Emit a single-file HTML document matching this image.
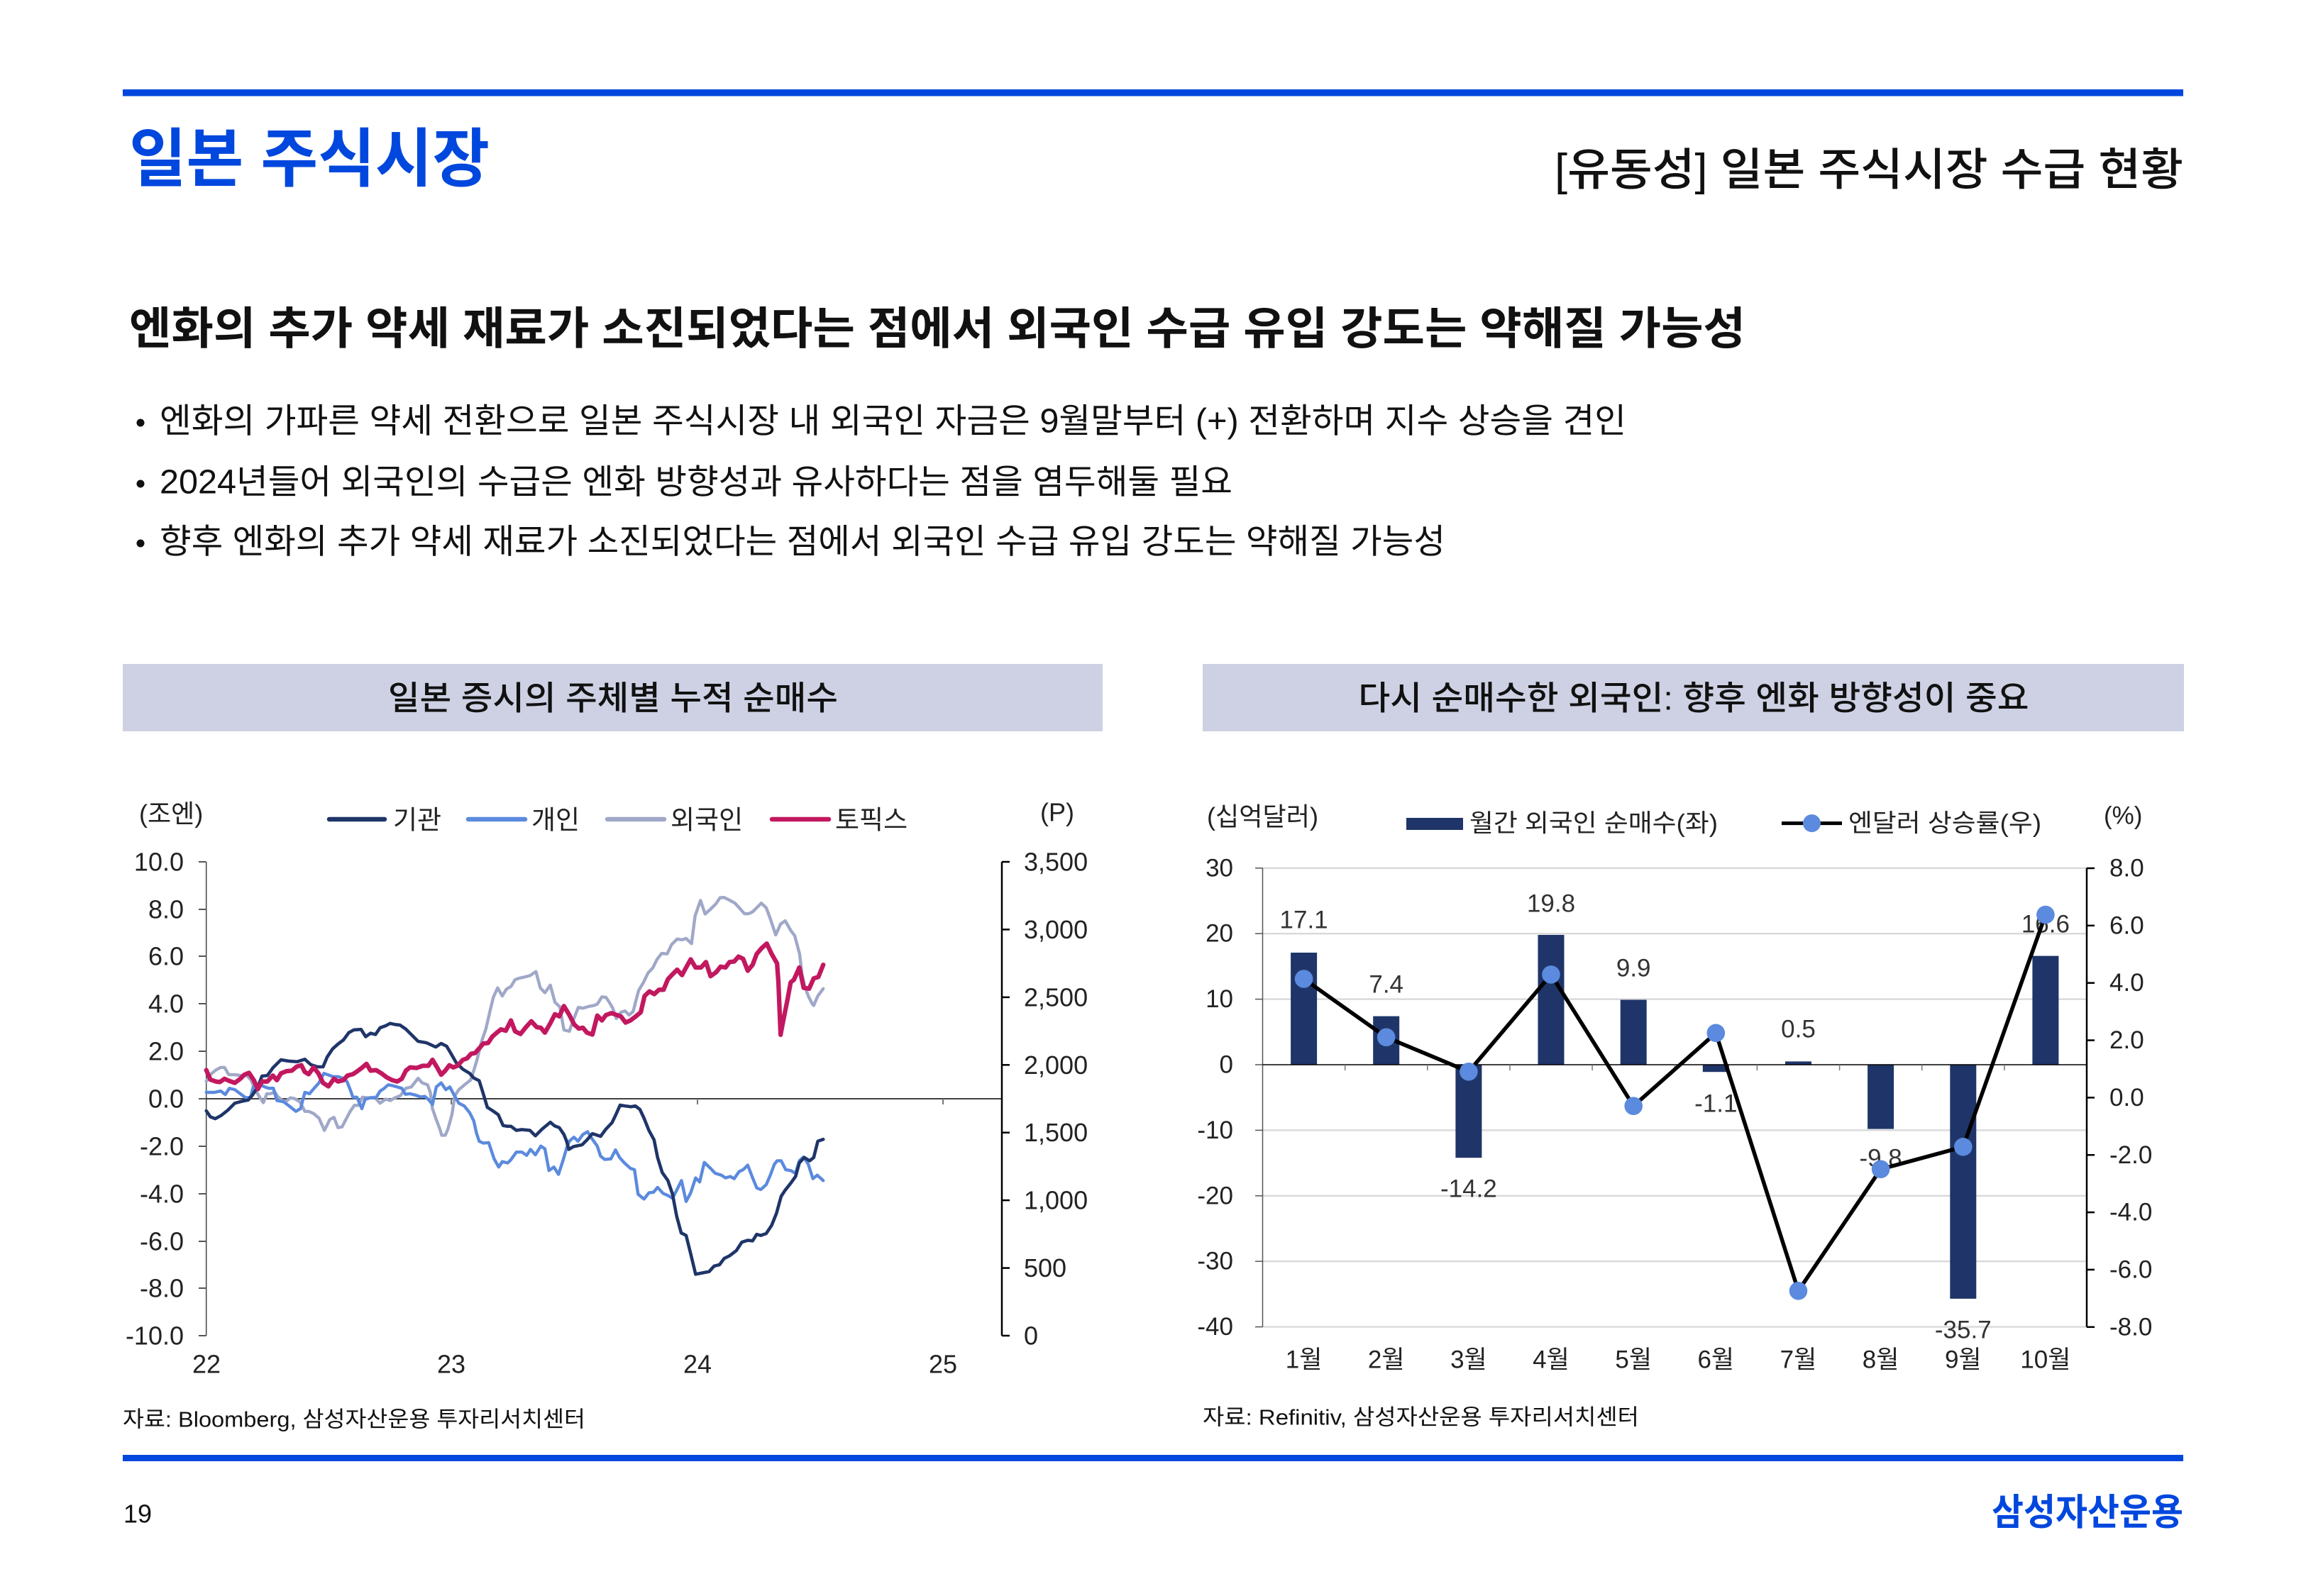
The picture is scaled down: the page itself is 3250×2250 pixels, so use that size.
<!DOCTYPE html>
<html>
<head>
<meta charset="utf-8">
<style>
html,body{margin:0;padding:0;background:#fff;}
svg{display:block;}
text{font-family:"Liberation Sans","Noto Sans CJK KR",sans-serif;}
</style>
</head>
<body>
<svg width="3250" height="2250" viewBox="0 0 3250 2250" xmlns="http://www.w3.org/2000/svg">
<rect width="3250" height="2250" fill="#fff"/>

<!-- Top line & titles -->
<rect x="173" y="126" width="2904" height="9.5" fill="#0047de"/>
<text x="182" y="225" font-size="90" font-weight="700" fill="#0047de" dominant-baseline="central" textLength="508" lengthAdjust="spacingAndGlyphs">일본 주식시장</text>
<text x="3077" y="240" font-size="63" font-weight="500" fill="#111" text-anchor="end" dominant-baseline="central" textLength="886" lengthAdjust="spacingAndGlyphs">[유동성] 일본 주식시장 수급 현황</text>

<text x="182" y="464" font-size="63" font-weight="700" fill="#111" dominant-baseline="central" textLength="2278" lengthAdjust="spacingAndGlyphs">엔화의 추가 약세 재료가 소진되었다는 점에서 외국인 수급 유입 강도는 약해질 가능성</text>

<circle cx="198" cy="596" r="5.5" fill="#111"/>
<text x="225" y="594" font-size="48" fill="#111" dominant-baseline="central" textLength="2067" lengthAdjust="spacingAndGlyphs">엔화의 가파른 약세 전환으로 일본 주식시장 내 외국인 자금은 9월말부터 (+) 전환하며 지수 상승을 견인</text>
<circle cx="198" cy="682" r="5.5" fill="#111"/>
<text x="225" y="680" font-size="48" fill="#111" dominant-baseline="central" textLength="1512" lengthAdjust="spacingAndGlyphs">2024년들어 외국인의 수급은 엔화 방향성과 유사하다는 점을 염두해둘 필요</text>
<circle cx="198" cy="766" r="5.5" fill="#111"/>
<text x="225" y="764" font-size="48" fill="#111" dominant-baseline="central" textLength="1812" lengthAdjust="spacingAndGlyphs">향후 엔화의 추가 약세 재료가 소진되었다는 점에서 외국인 수급 유입 강도는 약해질 가능성</text>

<!-- Chart header boxes -->
<rect x="173" y="936" width="1381" height="95" fill="#cdd1e3"/>
<text x="864" y="984" font-size="47" font-weight="500" fill="#111" text-anchor="middle" dominant-baseline="central" textLength="634" lengthAdjust="spacingAndGlyphs">일본 증시의 주체별 누적 순매수</text>
<rect x="1695" y="936" width="1383" height="95" fill="#cdd1e3"/>
<text x="2387" y="984" font-size="47" font-weight="500" fill="#111" text-anchor="middle" dominant-baseline="central" textLength="945" lengthAdjust="spacingAndGlyphs">다시 순매수한 외국인: 향후 엔화 방향성이 중요</text>

<!-- ================= LEFT CHART ================= -->
<text x="196" y="1147" font-size="36" fill="#222" dominant-baseline="central">(조엔)</text>
<text x="1466" y="1145" font-size="36" fill="#222" dominant-baseline="central">(P)</text>

<!-- legend -->
<g stroke-width="6.5" stroke-linecap="round">
<line x1="464" y1="1155" x2="542" y2="1155" stroke="#1f3569"/>
<line x1="660" y1="1155" x2="740" y2="1155" stroke="#5b8ade"/>
<line x1="856" y1="1155" x2="936" y2="1155" stroke="#a0a8c8"/>
<line x1="1088" y1="1155" x2="1168" y2="1155" stroke="#c2185f"/>
</g>
<g font-size="37" fill="#222" dominant-baseline="central">
<text x="554" y="1156">기관</text>
<text x="749" y="1156">개인</text>
<text x="945" y="1156">외국인</text>
<text x="1177" y="1156">토픽스</text>
</g>

<!-- left axis -->
<line x1="290.7" y1="1215" x2="290.7" y2="1883" stroke="#444" stroke-width="1.5"/>
<g stroke="#555" stroke-width="2">
<line x1="280" y1="1215" x2="290.7" y2="1215"/>
<line x1="280" y1="1282" x2="290.7" y2="1282"/>
<line x1="280" y1="1348" x2="290.7" y2="1348"/>
<line x1="280" y1="1415" x2="290.7" y2="1415"/>
<line x1="280" y1="1482" x2="290.7" y2="1482"/>
<line x1="280" y1="1549" x2="290.7" y2="1549"/>
<line x1="280" y1="1616" x2="290.7" y2="1616"/>
<line x1="280" y1="1683" x2="290.7" y2="1683"/>
<line x1="280" y1="1750" x2="290.7" y2="1750"/>
<line x1="280" y1="1816" x2="290.7" y2="1816"/>
<line x1="280" y1="1883" x2="290.7" y2="1883"/>
</g>
<g font-size="36" fill="#222" text-anchor="end" dominant-baseline="central">
<text x="259" y="1215">10.0</text>
<text x="259" y="1282">8.0</text>
<text x="259" y="1348">6.0</text>
<text x="259" y="1415">4.0</text>
<text x="259" y="1482">2.0</text>
<text x="259" y="1549">0.0</text>
<text x="259" y="1616">-2.0</text>
<text x="259" y="1683">-4.0</text>
<text x="259" y="1750">-6.0</text>
<text x="259" y="1816">-8.0</text>
<text x="259" y="1883">-10.0</text>
</g>

<!-- zero line + year ticks -->
<line x1="290.7" y1="1549" x2="1412" y2="1549" stroke="#000" stroke-width="1.6"/>
<g stroke="#777" stroke-width="2">
<line x1="636" y1="1549" x2="636" y2="1557"/>
<line x1="983" y1="1549" x2="983" y2="1557"/>
<line x1="1329" y1="1549" x2="1329" y2="1557"/>
</g>
<g font-size="36" fill="#222" text-anchor="middle" dominant-baseline="central">
<text x="291" y="1923">22</text>
<text x="636" y="1923">23</text>
<text x="983" y="1923">24</text>
<text x="1329" y="1923">25</text>
</g>

<!-- right axis -->
<line x1="1412" y1="1215" x2="1412" y2="1883" stroke="#000" stroke-width="2.5"/>
<g stroke="#000" stroke-width="2.5">
<line x1="1412" y1="1215" x2="1423" y2="1215"/>
<line x1="1412" y1="1310.4" x2="1423" y2="1310.4"/>
<line x1="1412" y1="1405.9" x2="1423" y2="1405.9"/>
<line x1="1412" y1="1501.3" x2="1423" y2="1501.3"/>
<line x1="1412" y1="1596.7" x2="1423" y2="1596.7"/>
<line x1="1412" y1="1692.1" x2="1423" y2="1692.1"/>
<line x1="1412" y1="1787.6" x2="1423" y2="1787.6"/>
<line x1="1412" y1="1883" x2="1423" y2="1883"/>
</g>
<g font-size="36" fill="#222" dominant-baseline="central">
<text x="1443" y="1215">3,500</text>
<text x="1443" y="1310.4">3,000</text>
<text x="1443" y="1405.9">2,500</text>
<text x="1443" y="1501.3">2,000</text>
<text x="1443" y="1596.7">1,500</text>
<text x="1443" y="1692.1">1,000</text>
<text x="1443" y="1787.6">500</text>
<text x="1443" y="1883">0</text>
</g>

<!-- series -->
<g transform="translate(285,1230) scale(0.3827)" fill="none" stroke-linejoin="round" stroke-linecap="round">
<polyline stroke="#a0a8c8" stroke-width="11.5" points="15,770 30,745 50,728 68,718 82,718 98,745 120,745 145,748 165,748 180,765 195,800 210,825 225,848 238,815 250,815 268,810 278,825 295,840 310,842 325,830 340,833 360,845 378,880 392,880 410,888 430,905 450,950 470,910 485,902 500,940 515,937 530,908 545,880 560,858 575,858 590,828 610,830 635,828 655,850 675,835 693,840 710,830 730,822 750,795 770,790 795,758 810,775 830,782 840,810 848,870 860,905 875,945 882,968 895,968 905,945 912,920 920,890 930,823 945,800 965,783 988,765 1000,730 1012,690 1028,625 1045,575 1060,510 1072,460 1088,425 1105,455 1120,430 1137,420 1152,395 1165,390 1187,385 1207,380 1229,365 1245,425 1262,443 1282,415 1299,478 1317,495 1332,580 1352,585 1365,548 1385,497 1402,500 1425,493 1442,490 1455,485 1472,458 1487,460 1499,478 1512,500 1525,538 1542,515 1557,510 1572,525 1587,512 1607,435 1625,405 1642,370 1659,352 1675,320 1692,298 1712,300 1729,265 1749,245 1767,248 1782,243 1802,262 1815,160 1835,103 1852,153 1872,135 1892,115 1907,93 1922,92 1942,102 1962,113 1982,135 1997,152 2012,152 2027,145 2042,130 2059,113 2077,130 2092,170 2112,230 2130,190 2147,178 2167,213 2182,233 2200,300 2209,375 2219,420 2232,455 2247,485 2252,490 2267,455 2287,428"/>
<polyline stroke="#5b8ade" stroke-width="11.5" points="15,810 45,810 68,805 85,818 100,795 120,800 140,815 160,830 178,828 188,790 200,780 215,782 230,790 245,795 262,795 275,840 300,845 320,860 345,880 362,870 378,810 395,815 412,795 430,775 448,740 462,745 482,752 500,752 515,757 533,770 545,800 555,828 570,828 588,870 600,835 620,830 640,830 655,805 668,797 685,782 700,785 718,790 735,795 748,817 765,815 785,820 805,827 820,825 835,838 848,855 862,790 880,775 897,800 912,790 925,815 945,850 965,860 985,885 1000,915 1010,960 1020,990 1035,997 1055,995 1075,1055 1092,1085 1105,1065 1125,1070 1137,1058 1157,1030 1177,1030 1195,1042 1209,1020 1227,1040 1247,1008 1262,1018 1277,1098 1295,1085 1312,1112 1329,1060 1342,1015 1352,990 1369,975 1384,990 1402,965 1419,955 1435,980 1455,1008 1467,1045 1482,1057 1505,1055 1522,1022 1537,1050 1555,1070 1577,1090 1592,1095 1605,1185 1627,1203 1645,1180 1662,1178 1677,1160 1697,1182 1715,1190 1732,1200 1750,1165 1765,1135 1782,1212 1799,1180 1817,1125 1832,1140 1849,1068 1872,1090 1889,1108 1912,1115 1927,1125 1945,1120 1959,1128 1977,1102 1992,1095 2009,1078 2025,1120 2042,1162 2057,1168 2077,1150 2092,1115 2107,1075 2117,1062 2132,1062 2149,1095 2167,1098 2185,1108 2199,1062 2215,1048 2232,1075 2249,1128 2265,1115 2287,1135"/>
<polyline stroke="#1f3569" stroke-width="12" points="15,878 30,900 48,907 70,895 95,875 120,850 145,843 170,838 185,820 205,790 220,750 240,748 260,720 290,690 320,695 350,697 378,688 400,708 425,716 445,716 460,680 480,650 500,632 520,617 540,590 558,580 585,578 602,605 620,592 638,597 655,572 675,565 692,556 710,560 728,562 750,577 770,597 795,622 825,627 860,643 880,630 900,640 915,665 935,700 960,725 985,740 1000,757 1020,767 1035,815 1050,865 1070,878 1090,892 1108,932 1125,935 1137,935 1157,950 1177,947 1207,950 1227,970 1252,945 1282,920 1297,933 1315,940 1332,965 1342,990 1350,1020 1367,1010 1399,1003 1417,985 1437,962 1467,972 1487,945 1509,922 1522,895 1539,857 1557,860 1579,863 1595,860 1612,873 1627,905 1645,950 1664,985 1677,1050 1694,1105 1715,1135 1732,1185 1747,1265 1764,1328 1782,1337 1799,1405 1817,1480 1842,1475 1867,1470 1885,1450 1905,1445 1922,1422 1942,1412 1967,1393 1987,1362 2009,1355 2027,1357 2042,1333 2057,1337 2077,1330 2097,1300 2115,1255 2132,1193 2147,1170 2167,1145 2185,1120 2199,1070 2217,1050 2237,1062 2252,1050 2267,990 2287,983"/>
<polyline stroke="#c2185f" stroke-width="16.5" points="15,728 30,763 50,770 65,772 82,760 100,768 120,775 140,760 155,745 172,738 190,765 205,798 220,770 240,770 260,748 275,765 290,740 310,732 330,730 348,715 365,710 378,735 392,743 410,718 428,740 445,775 465,788 485,760 500,770 520,765 535,748 555,743 570,733 590,718 605,705 620,730 640,728 660,740 680,755 700,765 718,770 735,760 750,730 765,718 790,720 812,712 833,712 848,690 865,718 880,745 895,730 910,710 925,718 940,712 960,690 975,685 990,668 1005,665 1020,648 1035,630 1053,628 1068,605 1085,590 1100,578 1118,583 1137,545 1152,585 1172,595 1192,570 1212,548 1232,570 1247,572 1262,590 1282,555 1299,522 1315,530 1332,492 1352,525 1370,560 1387,575 1402,572 1417,590 1437,597 1455,527 1472,545 1487,525 1507,518 1527,525 1542,530 1559,553 1577,545 1597,530 1615,515 1629,455 1647,438 1665,448 1682,432 1699,432 1715,393 1732,375 1749,358 1767,378 1782,350 1799,320 1817,350 1837,350 1855,330 1872,382 1892,368 1909,347 1927,350 1942,330 1959,328 1975,310 1992,318 2009,362 2027,340 2042,300 2059,280 2079,262 2097,300 2117,335 2122,405 2130,598 2137,560 2155,470 2167,405 2179,395 2199,350 2215,425 2235,428 2252,390 2269,385 2287,340"/>
</g>

<text x="173" y="2001" font-size="31" fill="#111" dominant-baseline="central" textLength="652" lengthAdjust="spacingAndGlyphs">자료: Bloomberg, 삼성자산운용 투자리서치센터</text>

<!-- ================= RIGHT CHART ================= -->
<text x="1701" y="1151" font-size="36" fill="#222" dominant-baseline="central" textLength="157" lengthAdjust="spacingAndGlyphs">(십억달러)</text>
<rect x="1982" y="1153" width="80" height="17" fill="#1f3569"/>
<text x="2071" y="1161" font-size="35" fill="#222" dominant-baseline="central" textLength="350" lengthAdjust="spacingAndGlyphs">월간 외국인 순매수(좌)</text>
<line x1="2511" y1="1160.6" x2="2596" y2="1160.6" stroke="#000" stroke-width="5"/>
<circle cx="2553.5" cy="1160.6" r="12.5" fill="#5b8ade"/>
<text x="2605" y="1161" font-size="35" fill="#222" dominant-baseline="central" textLength="272" lengthAdjust="spacingAndGlyphs">엔달러 상승률(우)</text>
<text x="2965" y="1150" font-size="35" fill="#222" dominant-baseline="central">(%)</text>

<!-- gridlines -->
<g stroke="#d9d9d9" stroke-width="2.4">
<line x1="1779.5" y1="1223.8" x2="2941" y2="1223.8"/>
<line x1="1779.5" y1="1316.2" x2="2941" y2="1316.2"/>
<line x1="1779.5" y1="1408.6" x2="2941" y2="1408.6"/>
<line x1="1779.5" y1="1593.4" x2="2941" y2="1593.4"/>
<line x1="1779.5" y1="1685.8" x2="2941" y2="1685.8"/>
<line x1="1779.5" y1="1778.2" x2="2941" y2="1778.2"/>
<line x1="1779.5" y1="1870.6" x2="2941" y2="1870.6"/>
</g>
<line x1="1779.5" y1="1223.8" x2="1779.5" y2="1870.6" stroke="#555" stroke-width="1.5"/>
<g stroke="#555" stroke-width="1.5">
<line x1="1769" y1="1223.8" x2="1779.5" y2="1223.8"/>
<line x1="1769" y1="1316.2" x2="1779.5" y2="1316.2"/>
<line x1="1769" y1="1408.6" x2="1779.5" y2="1408.6"/>
<line x1="1769" y1="1501" x2="1779.5" y2="1501"/>
<line x1="1769" y1="1593.4" x2="1779.5" y2="1593.4"/>
<line x1="1769" y1="1685.8" x2="1779.5" y2="1685.8"/>
<line x1="1769" y1="1778.2" x2="1779.5" y2="1778.2"/>
<line x1="1769" y1="1870.6" x2="1779.5" y2="1870.6"/>
</g>
<g font-size="35" fill="#222" text-anchor="end" dominant-baseline="central">
<text x="1738" y="1223.8">30</text>
<text x="1738" y="1316.2">20</text>
<text x="1738" y="1408.6">10</text>
<text x="1738" y="1501">0</text>
<text x="1738" y="1593.4">-10</text>
<text x="1738" y="1685.8">-20</text>
<text x="1738" y="1778.2">-30</text>
<text x="1738" y="1870.6">-40</text>
</g>

<!-- bars -->
<g fill="#1f3569">
<rect x="1819.1" y="1343.0" width="37" height="158.0"/>
<rect x="1935.2" y="1432.6" width="37" height="68.4"/>
<rect x="2051.4" y="1501" width="37" height="131.2"/>
<rect x="2167.5" y="1318.0" width="37" height="183.0"/>
<rect x="2283.7" y="1409.5" width="37" height="91.5"/>
<rect x="2399.8" y="1501" width="37" height="10.2"/>
<rect x="2516.0" y="1496.4" width="37" height="4.6"/>
<rect x="2632.1" y="1501" width="37" height="90.6"/>
<rect x="2748.3" y="1501" width="37" height="329.9"/>
<rect x="2864.4" y="1347.6" width="37" height="153.4"/>
</g>

<!-- zero line and category ticks -->
<line x1="1779.5" y1="1501" x2="2941" y2="1501" stroke="#000" stroke-width="1.6"/>
<g stroke="#777" stroke-width="1.5">
<line x1="1895.7" y1="1501" x2="1895.7" y2="1509"/>
<line x1="2011.8" y1="1501" x2="2011.8" y2="1509"/>
<line x1="2128" y1="1501" x2="2128" y2="1509"/>
<line x1="2244.1" y1="1501" x2="2244.1" y2="1509"/>
<line x1="2360.3" y1="1501" x2="2360.3" y2="1509"/>
<line x1="2476.4" y1="1501" x2="2476.4" y2="1509"/>
<line x1="2592.6" y1="1501" x2="2592.6" y2="1509"/>
<line x1="2708.7" y1="1501" x2="2708.7" y2="1509"/>
<line x1="2824.9" y1="1501" x2="2824.9" y2="1509"/>
</g>

<!-- bar labels -->
<g font-size="35" fill="#333" text-anchor="middle" dominant-baseline="central">
<text x="1837.6" y="1297">17.1</text>
<text x="1953.7" y="1388">7.4</text>
<text x="2069.9" y="1676">-14.2</text>
<text x="2186.0" y="1274">19.8</text>
<text x="2302.2" y="1365">9.9</text>
<text x="2418.3" y="1556">-1.1</text>
<text x="2534.5" y="1451">0.5</text>
<text x="2650.6" y="1633">-9.8</text>
<text x="2766.8" y="1875">-35.7</text>
<text x="2882.9" y="1303">16.6</text>
</g>

<!-- line & dots -->
<polyline fill="none" stroke="#000" stroke-width="5.5" stroke-linejoin="round" points="1837.6,1380 1953.7,1462.3 2069.9,1510.8 2186.0,1373.9 2302.2,1559.2 2418.3,1456.3 2534.5,1819.8 2650.6,1648.3 2766.8,1616.8 2882.9,1289.6"/>
<g fill="#5b8ade">
<circle cx="1837.6" cy="1380" r="12.8"/>
<circle cx="1953.7" cy="1462.3" r="12.8"/>
<circle cx="2069.9" cy="1510.8" r="12.8"/>
<circle cx="2186.0" cy="1373.9" r="12.8"/>
<circle cx="2302.2" cy="1559.2" r="12.8"/>
<circle cx="2418.3" cy="1456.3" r="12.8"/>
<circle cx="2534.5" cy="1819.8" r="12.8"/>
<circle cx="2650.6" cy="1648.3" r="12.8"/>
<circle cx="2766.8" cy="1616.8" r="12.8"/>
<circle cx="2882.9" cy="1289.6" r="12.8"/>
</g>

<!-- right axis -->
<line x1="2941" y1="1223.8" x2="2941" y2="1870.8" stroke="#000" stroke-width="2.5"/>
<g stroke="#000" stroke-width="2.5">
<line x1="2941" y1="1224" x2="2952" y2="1224"/>
<line x1="2941" y1="1304.85" x2="2952" y2="1304.85"/>
<line x1="2941" y1="1385.7" x2="2952" y2="1385.7"/>
<line x1="2941" y1="1466.55" x2="2952" y2="1466.55"/>
<line x1="2941" y1="1547.4" x2="2952" y2="1547.4"/>
<line x1="2941" y1="1628.25" x2="2952" y2="1628.25"/>
<line x1="2941" y1="1709.1" x2="2952" y2="1709.1"/>
<line x1="2941" y1="1789.95" x2="2952" y2="1789.95"/>
<line x1="2941" y1="1870.8" x2="2952" y2="1870.8"/>
</g>
<g font-size="35" fill="#222" dominant-baseline="central">
<text x="2973" y="1224">8.0</text>
<text x="2973" y="1304.85">6.0</text>
<text x="2973" y="1385.7">4.0</text>
<text x="2973" y="1466.55">2.0</text>
<text x="2973" y="1547.4">0.0</text>
<text x="2973" y="1628.25">-2.0</text>
<text x="2973" y="1709.1">-4.0</text>
<text x="2973" y="1789.95">-6.0</text>
<text x="2973" y="1870.8">-8.0</text>
</g>

<!-- x labels -->
<g font-size="35" fill="#222" text-anchor="middle" dominant-baseline="central">
<text x="1837.6" y="1917">1월</text>
<text x="1953.7" y="1917">2월</text>
<text x="2069.9" y="1917">3월</text>
<text x="2186.0" y="1917">4월</text>
<text x="2302.2" y="1917">5월</text>
<text x="2418.3" y="1917">6월</text>
<text x="2534.5" y="1917">7월</text>
<text x="2650.6" y="1917">8월</text>
<text x="2766.8" y="1917">9월</text>
<text x="2882.9" y="1917">10월</text>
</g>

<text x="1695" y="1998" font-size="31" fill="#111" dominant-baseline="central" textLength="615" lengthAdjust="spacingAndGlyphs">자료: Refinitiv, 삼성자산운용 투자리서치센터</text>

<!-- Footer -->
<rect x="173" y="2051" width="2904" height="9" fill="#0047de"/>
<text x="174" y="2134" font-size="36" fill="#111" dominant-baseline="central">19</text>
<text x="3077" y="2133" font-size="52" font-weight="700" fill="#0047de" text-anchor="end" dominant-baseline="central" textLength="270" lengthAdjust="spacingAndGlyphs">삼성자산운용</text>
</svg>
</body>
</html>
